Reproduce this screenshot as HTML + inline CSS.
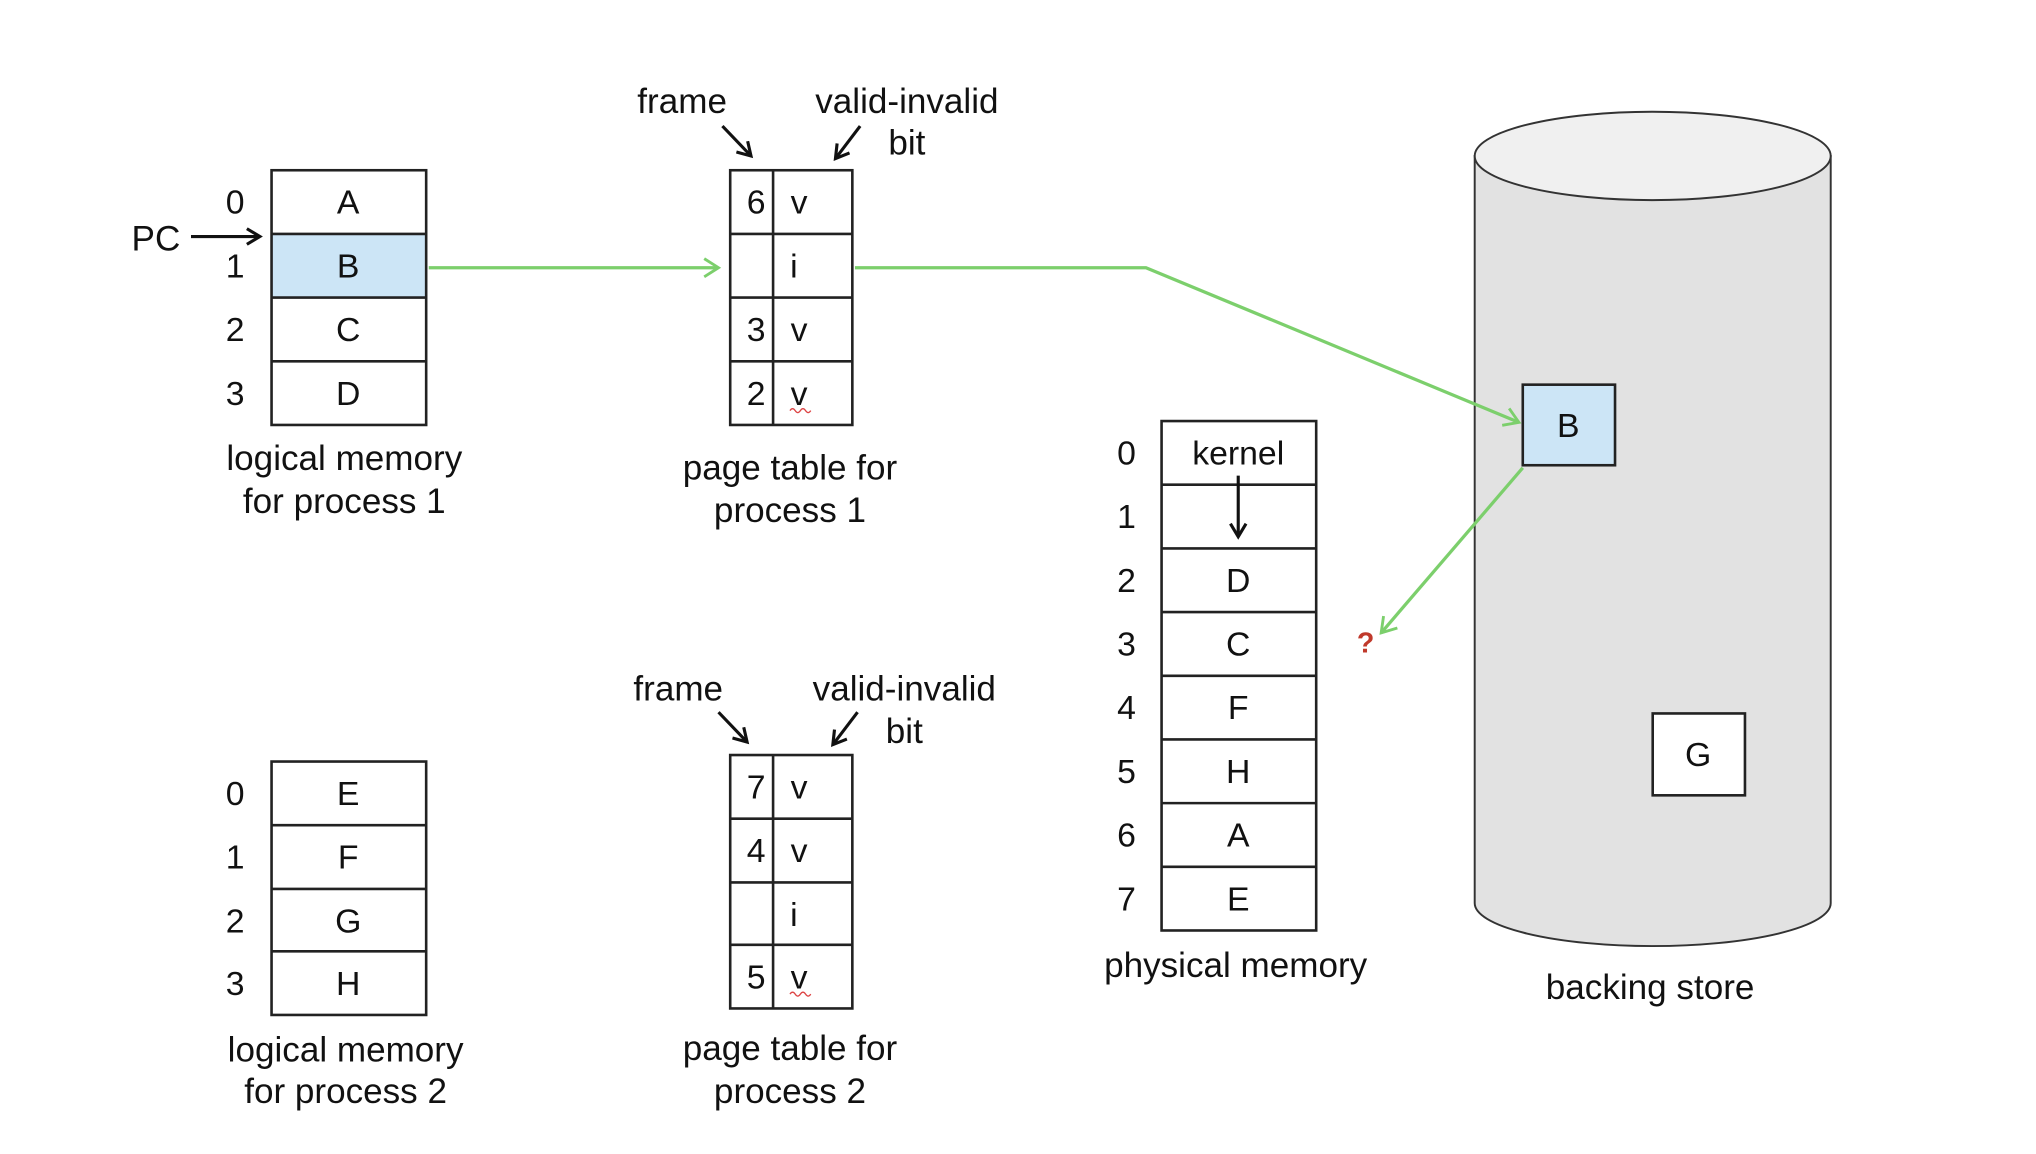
<!DOCTYPE html>
<html><head><meta charset="utf-8"><style>
html,body{margin:0;padding:0;background:#fff;}
svg{display:block;}
text{font-family:"Liberation Sans",sans-serif;fill:#111;}
.c{font-size:26px;}
</style></head><body>
<svg width="2036" height="1154" viewBox="0 0 1567 888" preserveAspectRatio="none" xmlns="http://www.w3.org/2000/svg">
<defs>
<marker id="bk" markerWidth="14" markerHeight="14" refX="11" refY="7" orient="auto" markerUnits="userSpaceOnUse"><path d="M1,1 L11,7 L1,13" fill="none" stroke="#111" stroke-width="2.4"/></marker>
<marker id="gr" markerWidth="16" markerHeight="16" refX="13" refY="8" orient="auto" markerUnits="userSpaceOnUse"><path d="M2,1 L13,8 L2,15" fill="none" stroke="#7ccf6c" stroke-width="2.2"/></marker>
</defs>
<g font-size="27" text-anchor="middle" dominant-baseline="central">
<path d="M1135,120 L1135,695 A137,33 0 0 0 1409,695 L1409,120 Z" fill="#e2e2e2" stroke="#333" stroke-width="1.5"/>
<ellipse cx="1272" cy="120" rx="137" ry="34" fill="#f0f0f0" stroke="#333" stroke-width="1.5"/>
<rect x="1172" y="296" width="71" height="62" fill="#cce5f6" stroke="#222" stroke-width="2"/>
<text class="c" x="1207" y="328">B</text>
<rect x="1272" y="549" width="71" height="63" fill="#fff" stroke="#222" stroke-width="2"/>
<text class="c" x="1307" y="581">G</text>
<text x="1270" y="760">backing store</text>

<g class="c">
<rect x="209" y="180" width="119" height="49" fill="#cce5f6"/>
<rect x="209" y="131" width="119" height="196" fill="none" stroke="#222" stroke-width="2"/>
<path d="M209,180H328M209,229H328M209,278H328" stroke="#222" stroke-width="2"/>
<text x="268" y="156">A</text><text x="268" y="205">B</text><text x="268" y="254">C</text><text x="268" y="303">D</text>
<text x="181" y="156">0</text><text x="181" y="205">1</text><text x="181" y="254">2</text><text x="181" y="303">3</text>
</g>
<text x="120" y="184">PC</text>
<line x1="147" y1="182" x2="200" y2="182" stroke="#111" stroke-width="2.4" marker-end="url(#bk)"/>
<text x="265" y="353">logical memory</text><text x="265" y="386">for process 1</text>

<rect x="562" y="131" width="94" height="196" fill="none" stroke="#222" stroke-width="2"/>
<path d="M562,180H656M562,229H656M562,278H656M595,131V327" stroke="#222" stroke-width="2"/>
<g class="c">
<text x="582" y="156">6</text><text x="615" y="156">v</text>
<text x="611" y="205">i</text>
<text x="582" y="254">3</text><text x="615" y="254">v</text>
<text x="582" y="303">2</text><text x="615" y="303">v</text>
</g>
<path d="M608,316 q2,-3 4,0 q2,3 4,0 q2,-3 4,0 q2,3 4,0" stroke="#d44" fill="none" stroke-width="1"/>
<text x="525" y="78">frame</text>
<line x1="556" y1="97" x2="578" y2="120" stroke="#111" stroke-width="2.4" marker-end="url(#bk)"/>
<text x="698" y="78">valid-invalid</text><text x="698" y="110">bit</text>
<line x1="662" y1="97" x2="643" y2="122" stroke="#111" stroke-width="2.4" marker-end="url(#bk)"/>
<text x="608" y="360">page table for</text><text x="608" y="393">process 1</text>

<line x1="330" y1="206" x2="553" y2="206" stroke="#7ccf6c" stroke-width="2.5" marker-end="url(#gr)"/>
<polyline points="658,206 882,206 1169,325" fill="none" stroke="#7ccf6c" stroke-width="2.5" marker-end="url(#gr)"/>
<line x1="1172" y1="360" x2="1063" y2="487" stroke="#7ccf6c" stroke-width="2.5" marker-end="url(#gr)"/>
<text x="1051" y="495" style="fill:#c0392b;font-weight:bold" font-size="22">?</text>

<rect x="894" y="324" width="119" height="392" fill="none" stroke="#222" stroke-width="2"/>
<path d="M894,373H1013M894,422H1013M894,471H1013M894,520H1013M894,569H1013M894,618H1013M894,667H1013" stroke="#222" stroke-width="2"/>
<g class="c">
<text x="953" y="349">kernel</text>
<text x="953" y="447">D</text><text x="953" y="496">C</text><text x="953" y="545">F</text><text x="953" y="594">H</text><text x="953" y="643">A</text><text x="953" y="692">E</text>
<text x="867" y="349">0</text><text x="867" y="398">1</text><text x="867" y="447">2</text><text x="867" y="496">3</text><text x="867" y="545">4</text><text x="867" y="594">5</text><text x="867" y="643">6</text><text x="867" y="692">7</text>
</g>
<line x1="953" y1="366" x2="953" y2="413" stroke="#111" stroke-width="2.4" marker-end="url(#bk)"/>
<text x="951" y="743">physical memory</text>

<rect x="209" y="586" width="119" height="195" fill="none" stroke="#222" stroke-width="2"/>
<path d="M209,635H328M209,684H328M209,732H328" stroke="#222" stroke-width="2"/>
<g class="c">
<text x="268" y="611">E</text><text x="268" y="660">F</text><text x="268" y="709">G</text><text x="268" y="757">H</text>
<text x="181" y="611">0</text><text x="181" y="660">1</text><text x="181" y="709">2</text><text x="181" y="757">3</text>
</g>
<text x="266" y="808">logical memory</text><text x="266" y="840">for process 2</text>

<rect x="562" y="581" width="94" height="195" fill="none" stroke="#222" stroke-width="2"/>
<path d="M562,630H656M562,679H656M562,727H656M595,581V776" stroke="#222" stroke-width="2"/>
<g class="c">
<text x="582" y="606">7</text><text x="615" y="606">v</text>
<text x="582" y="655">4</text><text x="615" y="655">v</text>
<text x="611" y="704">i</text>
<text x="582" y="752">5</text><text x="615" y="752">v</text>
</g>
<path d="M608,765 q2,-3 4,0 q2,3 4,0 q2,-3 4,0 q2,3 4,0" stroke="#d44" fill="none" stroke-width="1"/>
<text x="522" y="530">frame</text>
<line x1="553" y1="548" x2="575" y2="571" stroke="#111" stroke-width="2.4" marker-end="url(#bk)"/>
<text x="696" y="530">valid-invalid</text><text x="696" y="563">bit</text>
<line x1="660" y1="548" x2="641" y2="573" stroke="#111" stroke-width="2.4" marker-end="url(#bk)"/>
<text x="608" y="807">page table for</text><text x="608" y="840">process 2</text>
</g>
</svg>
</body></html>
